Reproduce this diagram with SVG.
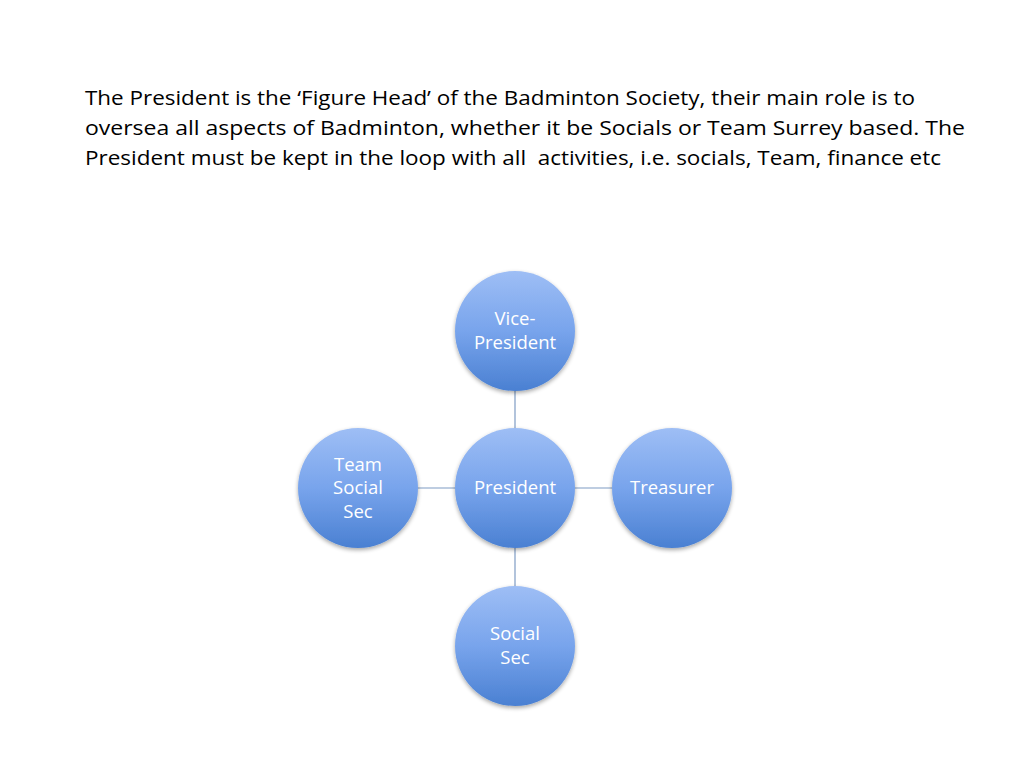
<svg xmlns="http://www.w3.org/2000/svg" width="1024" height="768" viewBox="0 0 1024 768">
<defs>
<linearGradient id="g" x1="0" y1="0" x2="0" y2="1">
<stop offset="0" stop-color="#9ebef5"/>
<stop offset="0.5" stop-color="#78a4ec"/>
<stop offset="1" stop-color="#4a80d2"/>
</linearGradient>
<filter id="sh" x="-20%" y="-20%" width="140%" height="150%">
<feGaussianBlur in="SourceAlpha" stdDeviation="2"/>
<feOffset dx="0" dy="2" result="b"/>
<feComponentTransfer><feFuncA type="linear" slope="0.35"/></feComponentTransfer>
<feMerge><feMergeNode/><feMergeNode in="SourceGraphic"/></feMerge>
</filter>
<style>
.n{fill:url(#g);filter:url(#sh)}
.t{font-family:"Open Sans","Liberation Sans",sans-serif;font-size:18.5px;fill:#ffffff;text-anchor:middle}
.h{font-family:"Open Sans","Liberation Sans",sans-serif;font-size:20px;fill:#000000}
.c{stroke:#7f9cc4;stroke-width:1.2;fill:none}
</style>
</defs>
<rect width="1024" height="768" fill="#ffffff"/>
<g id="heading">
<text class="h" x="85" y="105" textLength="830" lengthAdjust="spacingAndGlyphs">The President is the ‘Figure Head’ of the Badminton Society, their main role is to</text>
<text class="h" x="85" y="135" textLength="880" lengthAdjust="spacingAndGlyphs">oversea all aspects of Badminton, whether it be Socials or Team Surrey based. The</text>
<text class="h" x="85" y="165" textLength="856" lengthAdjust="spacingAndGlyphs" xml:space="preserve">President must be kept in the loop with all  activities, i.e. socials, Team, finance etc</text>
</g>
<g id="connectors">
<line class="c" x1="515" y1="391" x2="515" y2="428"/>
<line class="c" x1="575" y1="488" x2="612" y2="488"/>
<line class="c" x1="418" y1="488" x2="455" y2="488"/>
<line class="c" x1="515" y1="548" x2="515" y2="586"/>
</g>
<g id="president">
<circle class="n" cx="515" cy="488" r="60"/>
<text class="t" x="515" y="494">President</text>
</g>
<g id="vice-president">
<circle class="n" cx="515" cy="331" r="60"/>
<text class="t" x="515" y="325">Vice-</text>
<text class="t" x="515" y="349">President</text>
</g>
<g id="treasurer">
<circle class="n" cx="672" cy="488" r="60"/>
<text class="t" x="672" y="494">Treasurer</text>
</g>
<g id="team-social-sec">
<circle class="n" cx="358" cy="488" r="60"/>
<text class="t" x="358" y="471">Team</text>
<text class="t" x="358" y="494">Social</text>
<text class="t" x="358" y="518">Sec</text>
</g>
<g id="social-sec">
<circle class="n" cx="515" cy="646" r="60"/>
<text class="t" x="515" y="640">Social</text>
<text class="t" x="515" y="664">Sec</text>
</g>
</svg>
